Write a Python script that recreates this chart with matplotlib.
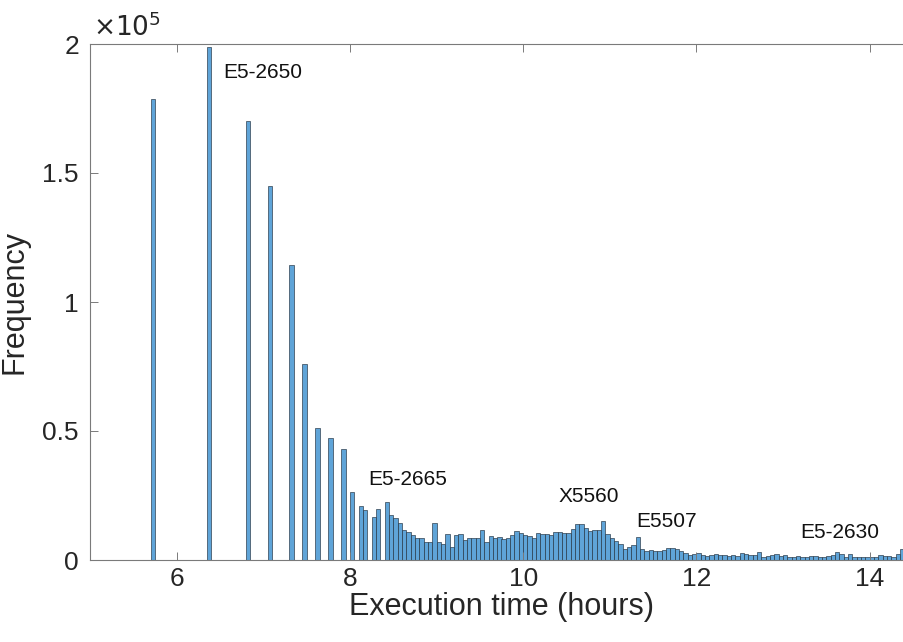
import numpy as np
import matplotlib
matplotlib.use("Agg")
import matplotlib.pyplot as plt

plt.rcParams['font.family'] = ['Liberation Sans', 'DejaVu Sans']

# ---- data ----
bin_width = 0.05
# isolated spikes (bin centres, hours) and their counts
spike_hours = [5.725, 6.375, 6.825, 7.075, 7.325, 7.475, 7.625, 7.775,
               7.925, 8.025, 8.125, 8.175, 8.275, 8.325]
spike_counts = [178700, 199000, 170300, 144900, 114500, 75900, 51100, 47300,
                43100, 26400, 20900, 19300, 16500, 19700]
# contiguous bins starting at this left edge
dense_start = 8.40
dense_counts = [
    22400, 17300, 16200, 14300, 11700, 10900, 9700, 8700, 8400, 6800,
    6800, 14400, 7000, 6100, 10000, 5000, 9600, 10000, 7800, 8400,
    8400, 8400, 11700, 6900, 9400, 8700, 8800, 8200, 8600, 9500,
    11200, 10400, 9700, 9400, 8400, 10400, 10100, 10100, 9700, 11000,
    11000, 10400, 10400, 12100, 13900, 13900, 12300, 11300, 11600, 11600,
    15200, 10100, 8700, 7400, 6200, 4400, 4900, 5800, 8800, 4200,
    3500, 3800, 3500, 3600, 3900, 4500, 4500, 4300, 3400, 2700,
    2100, 2200, 2900, 1800, 1600, 1900, 2200, 1800, 1800, 1600,
    1800, 1600, 2700, 2500, 1800, 1800, 3000, 1300, 1600, 1800,
    2200, 1400, 1800, 1100, 1200, 1600, 1300, 1300, 1700, 1700,
    1300, 1200, 1600, 1900, 3000, 2300, 1300, 2200, 1300, 1300,
    1300, 1000, 1300, 1300, 1900, 1600, 1700, 1300, 2200, 4200,
]
x_ticks = [6, 8, 10, 12, 14]
y_ticks = [0, 0.5e5, 1e5, 1.5e5, 2e5]
y_tick_labels = ['0', '0.5', '1', '1.5', '2']
annotations = [("E5-2650", 6.54, 1.89e5), ("E5-2665", 8.21, 0.311e5),
               ("X5560", 10.41, 0.245e5), ("E5507", 11.31, 0.151e5),
               ("E5-2630", 13.20, 0.105e5)]

# ---- figure ----
W, H = 904, 642
fig = plt.figure(figsize=(W / 100, H / 100), dpi=100)
left_px, right_px, top_px, bot_px = 90, 913, 44, 560
ax = fig.add_axes([left_px / W, (H - bot_px) / H,
                   (right_px - left_px) / W, (bot_px - top_px) / H])

dense_centres = dense_start + bin_width * (np.arange(len(dense_counts)) + 0.5)
centres = np.concatenate([np.array(spike_hours), dense_centres])
counts = np.concatenate([np.array(spike_counts), np.array(dense_counts)])

ax.bar(centres, counts, width=bin_width, color='#5fa4d8',
       edgecolor='#22313f', linewidth=0.45, align='center')

ax.set_xlim(5, 14.5)
ax.set_ylim(0, 2e5)
ax.set_xticks(x_ticks)
ax.set_xticklabels([str(t) for t in x_ticks])
ax.set_yticks(y_ticks)
ax.set_yticklabels(y_tick_labels)

txt_col = '#262626'
line_col = '#7a7a7a'
for s in ax.spines.values():
    s.set_color(line_col)
    s.set_linewidth(0.8)
ax.tick_params(direction='in', length=6, width=0.7, color=line_col,
               labelsize=19, labelcolor=txt_col, top=True, right=True)
ax.tick_params(axis='x', pad=5)
ax.tick_params(axis='y', pad=8)

ax.set_xlabel('Execution time (hours)', fontsize=22, color=txt_col, labelpad=1)
ax.set_ylabel('Frequency', fontsize=22, color=txt_col, labelpad=9)

fig.text(93 / W, 1 - 27 / H, r'$\times10^{5}$', fontsize=19, color=txt_col,
         ha='left', va='center', math_fontfamily='custom')

for label, xh, yv in annotations:
    ax.text(xh, yv, label, fontsize=15, color='#111111', ha='left', va='center')

fig.savefig('out.png', dpi=100)
